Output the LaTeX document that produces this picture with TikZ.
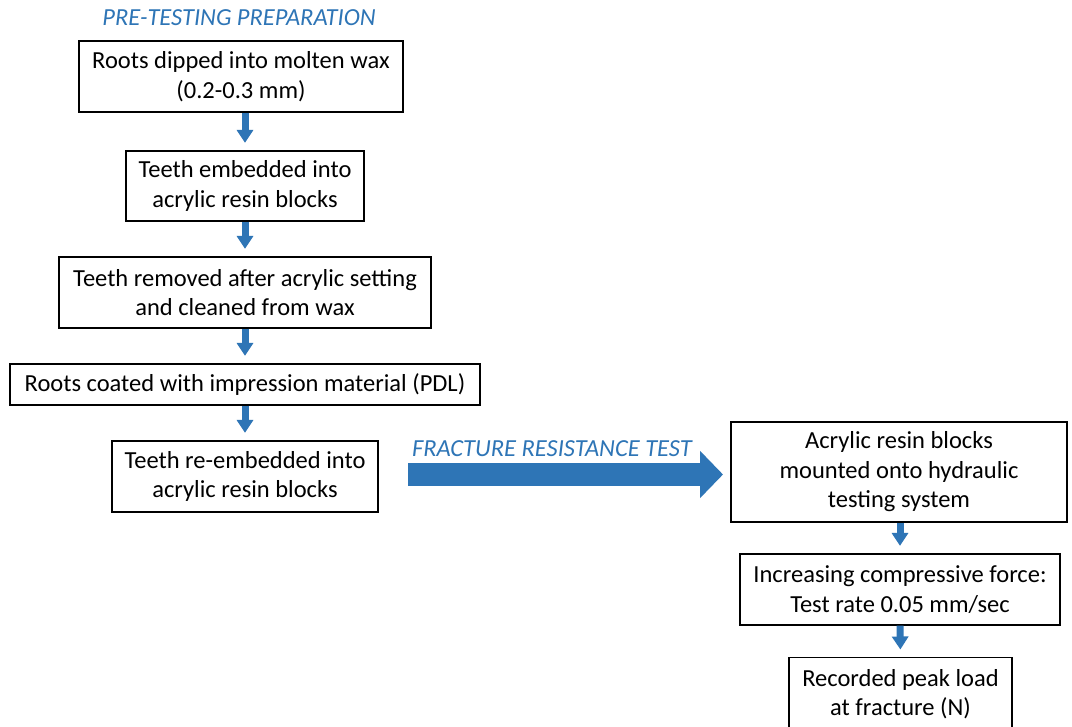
\documentclass[tikz,border=0pt]{standalone}
\usepackage{fontspec}
\setmainfont{Carlito}
\usetikzlibrary{arrows.meta}
\definecolor{accent}{HTML}{2E75B6}
\tikzset{
  stepbox/.style={draw=black, line width=1.2pt, fill=white, align=center, inner sep=0pt,
    font=\fontsize{24.5}{29.5}\selectfont},
  downarrow/.style={draw=accent, line width=7pt, -{Triangle[length=13pt,width=16pt]}, shorten >=7.5pt},
  bigarrow/.style={draw=accent, line width=23pt, -{Triangle[length=23pt,width=46pt]}},
  header/.style={text=accent, font=\fontsize{24.5}{26}\selectfont\itshape}
}
\begin{document}
\begin{tikzpicture}[x=1pt,y=-1pt]
\clip (0,0) rectangle (1072,727);
\fill[white] (0,0) rectangle (1072,727);
\node[header] (h1) at (239,18) {PRE-TESTING PREPARATION};
\node[stepbox, minimum width=324pt, minimum height=71pt] (b1) at (241,76.5) {Roots dipped into molten wax\\(0.2-0.3 mm)};
\node[stepbox, minimum width=238pt, minimum height=70pt] (b2) at (245,186) {Teeth embedded into\\acrylic resin blocks};
\node[stepbox, minimum width=372pt, minimum height=71pt] (b3) at (245,292.5) {Teeth removed after acrylic setting\\and cleaned from wax};
\node[stepbox, minimum width=470pt, minimum height=41pt] (b4) at (245,384.5) {Roots coated with impression material (PDL)};
\node[stepbox, minimum width=266pt, minimum height=71pt] (b5) at (245,476.5) {Teeth re-embedded into\\acrylic resin blocks};
\draw[downarrow] (b1.south -| 245,0) -- (b2.north);
\draw[downarrow] (b2.south) -- (b3.north);
\draw[downarrow] (b3.south) -- (b4.north);
\draw[downarrow] (b4.south) -- (b5.north);
\node[header] (h2) at (552,449) {FRACTURE RESISTANCE TEST};
\node[stepbox, minimum width=336pt, minimum height=100pt] (b6) at (899,472) {Acrylic resin blocks\\mounted onto hydraulic\\testing system};
\node[stepbox, minimum width=320pt, minimum height=71pt] (b7) at (900,589.5) {Increasing compressive force:\\Test rate 0.05 mm/sec};
\node[stepbox, minimum width=223pt, minimum height=100pt, anchor=north] (b8) at (900.5,657) {};
\node[font=\fontsize{24.5}{29.5}\selectfont, align=center] (t8) at (900.5,694) {Recorded peak load\\at fracture (N)};
\coordinate (fs) at (408,474.5);
\coordinate (fe) at (723,474.5);
\draw[bigarrow] (fs) -- (fe);
\draw[downarrow] (b6.south -| 900,0) -- (b7.north);
\draw[downarrow] (b7.south) -- (b8.north);
\end{tikzpicture}
\end{document}
